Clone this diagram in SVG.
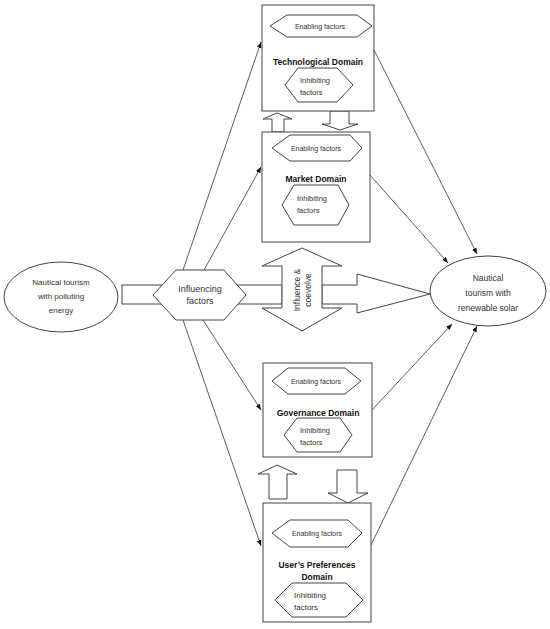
<svg xmlns="http://www.w3.org/2000/svg" width="550" height="629" viewBox="0 0 550 629">
<style>
.s{fill:#fff;stroke:#444;stroke-width:1}
.t{font-family:"Liberation Sans",Arial,sans-serif;fill:#333}
.sm{font-size:7px}
.md{font-size:7.5px}
.b{font-size:8.5px;font-weight:bold;fill:#111}
.c{text-anchor:middle}
.ln{stroke:#333;stroke-width:0.8;fill:none;marker-end:url(#ah)}
</style>
<defs>
<marker id="ah" viewBox="0 0 10 10" refX="10" refY="5" markerWidth="6" markerHeight="6" orient="auto" markerUnits="userSpaceOnUse">
<path d="M0,1 L10,5 L0,9 z" fill="#111"/>
</marker>
</defs>
<rect width="550" height="629" fill="#fff"/>

<g id="connectors">
<line class="ln" x1="183" y1="270" x2="261" y2="42"/>
<line class="ln" x1="204" y1="270" x2="261" y2="167"/>
<line class="ln" x1="203" y1="320" x2="261" y2="410"/>
<line class="ln" x1="183" y1="320" x2="261" y2="546"/>
<line class="ln" x1="374" y1="50" x2="477" y2="254"/>
<line class="ln" x1="370" y1="175" x2="448" y2="263"/>
<line class="ln" x1="372" y1="410" x2="452" y2="324"/>
<line class="ln" x1="371" y1="545" x2="477" y2="326"/>
<rect class="s" x="122" y="285" width="160" height="19"/>
<polygon class="s" points="322,285 357,285 357,274 430,294 357,313 357,304 322,304"/>
<polygon class="s" points="277,113 292,119 284,119 284,132 272,132 272,119 263,119"/>
<polygon class="s" points="330,111 349,111 349,124 358,124 340,130 322,124 330,124"/>
<polygon class="s" points="277,465 297,474 287,474 287,499 269,499 269,474 258,474"/>
<polygon class="s" points="337,470 357,470 357,493 368,493 348,503 328,493 337,493"/>
</g>

<g id="polluting">
<ellipse class="s" cx="61" cy="297" rx="57" ry="35"/>
<text class="t c" font-size="8" x="61" y="285">Nautical tourism</text>
<text class="t c" font-size="8" x="61" y="299">with polluting</text>
<text class="t c" font-size="8" x="61" y="313">energy</text>
</g>

<g id="influencing">
<polygon class="s" points="153,295 176,270 224,270 246,295 224,320 176,320"/>
<text class="t c" font-size="9" x="200" y="292">Influencing</text>
<text class="t c" font-size="9" x="200" y="304">factors</text>
</g>

<g id="coevolve">
<polygon class="s" points="302,248 342,266 322,266 322,308 342,308 302,331 262,308 282,308 282,266 262,266"/>
<text class="t c" font-size="8.5" transform="translate(300,290) rotate(-90)">Influence &amp;</text>
<text class="t c" font-size="8.5" transform="translate(311,290) rotate(-90)">coevolve</text>
</g>

<g id="renewable">
<ellipse class="s" cx="488" cy="291" rx="58" ry="35"/>
<text class="t c" font-size="8.5" x="488" y="281">Nautical</text>
<text class="t c" font-size="8.5" x="488" y="296">tourism with</text>
<text class="t c" font-size="8.5" x="488" y="311">renewable solar</text>
</g>

<g id="technological">
<rect class="s" x="262" y="5" width="112" height="106"/>
<polygon class="s" points="270,26 287,15 357,15 372,26 357,37 287,37"/>
<text class="t sm c" x="320" y="29">Enabling factors</text>
<text class="t b c" x="318" y="65">Technological Domain</text>
<polygon class="s" points="285,85 298,68 337,68 353,85 337,102 298,102"/>
<text class="t md" x="300" y="83">Inhibiting</text>
<text class="t md" x="300" y="95">factors</text>
</g>

<g id="market">
<rect class="s" x="262" y="132" width="108" height="110"/>
<polygon class="s" points="272,148 290,135 350,135 362,148 350,161 290,161"/>
<text class="t sm c" x="316" y="151">Enabling factors</text>
<text class="t b c" x="316" y="182">Market Domain</text>
<polygon class="s" points="282,205 294,185 338,185 349,205 338,225 294,225"/>
<text class="t md" x="297" y="201">Inhibiting</text>
<text class="t md" x="297" y="213">factors</text>
</g>

<g id="governance">
<rect class="s" x="263" y="363" width="109" height="94"/>
<polygon class="s" points="272,381 288,368 345,368 361,381 345,394 288,394"/>
<text class="t sm c" x="316" y="384">Enabling factors</text>
<text class="t b c" x="318" y="416">Governance Domain</text>
<polygon class="s" points="284,435 297,418 340,418 352,435 340,452 297,452"/>
<text class="t md" x="300" y="433">Inhibiting</text>
<text class="t md" x="300" y="445">factors</text>
</g>

<g id="users">
<rect class="s" x="263" y="503" width="108" height="119"/>
<polygon class="s" points="272,533 290,520 348,520 362,533 348,547 290,547"/>
<text class="t sm c" x="317" y="536">Enabling factors</text>
<text class="t b c" x="317" y="568">User’s Preferences</text>
<text class="t b c" x="317" y="580">Domain</text>
<polygon class="s" points="275,600 292,583 346,583 363,600 346,617 292,617"/>
<text class="t" font-size="8" x="294" y="598">Inhibiting</text>
<text class="t" font-size="8" x="294" y="610">factors</text>
</g>
</svg>
